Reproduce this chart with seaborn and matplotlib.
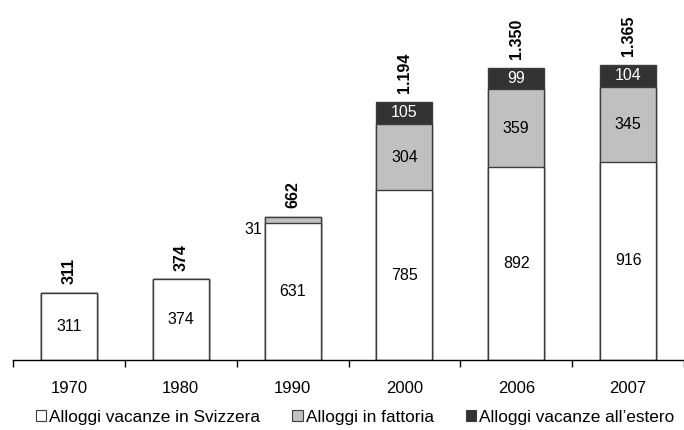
import numpy as np
import pandas as pd
import matplotlib
matplotlib.use("Agg")
import matplotlib.pyplot as plt
from matplotlib.patches import Patch
import seaborn as sns

# data
years = ["1970", "1980", "1990", "2000", "2006", "2007"]
svizzera = [311, 374, 631, 785, 892, 916]
fattoria = [0, 0, 31, 304, 359, 345]
estero = [0, 0, 0, 105, 99, 104]
series_names = ["Alloggi vacanze in Svizzera", "Alloggi in fattoria", "Alloggi vacanze all\u2019estero"]

colors = ["#ffffff", "#c0c0c0", "#333333"]
edge = "#3c3c3c"

sns.set_style("white")
plt.rcParams["font.family"] = ["Liberation Sans", "DejaVu Sans"]
plt.rcParams["text.color"] = "black"
plt.rcParams["xtick.color"] = "black"

df = pd.DataFrame({"year": years, "sv": svizzera, "fa": fattoria, "es": estero})
df["lvl1"] = df["sv"]
df["lvl2"] = df["sv"] + df["fa"]
df["lvl3"] = df["sv"] + df["fa"] + df["es"]

fig = plt.figure(figsize=(6.84, 4.30), dpi=100)
ax = fig.add_axes([13 / 684, 70 / 430, 671 / 684, 360 / 430])

# stacked bars: draw the cumulative totals from the top layer down
for col, c in zip(["lvl3", "lvl2", "lvl1"], colors[::-1]):
    sns.barplot(data=df, x="year", y=col, color=c, saturation=1, width=0.5,
                edgecolor=edge, linewidth=1.0, ax=ax)

ax.set_xlim(-0.5, -0.5 + 671 / 113.4)
ax.set_ylim(0, 1663)
ax.set_xlabel("")
ax.set_ylabel("")
ax.set_yticks([])
for s in ["left", "top", "right"]:
    ax.spines[s].set_visible(False)
ax.spines["bottom"].set_color("black")
ax.spines["bottom"].set_linewidth(1.0)
ax.set_xticks(np.arange(-0.5, 6, 1), minor=True)
ax.tick_params(axis="x", which="major", bottom=True, length=0, pad=15,
               labelsize=12, labelcolor="black")
ax.tick_params(axis="x", which="minor", bottom=True, length=5, width=1,
               color="black", direction="out")

# segment labels
fs = 11.5
for i in range(len(years)):
    sv, fa, es = svizzera[i], fattoria[i], estero[i]
    ax.text(i, sv / 2, str(sv), ha="center", va="center", fontsize=fs)
    if fa >= 100:
        ax.text(i, sv + fa / 2, str(fa), ha="center", va="center", fontsize=fs)
    elif fa > 0:
        ax.annotate(str(fa), (i - 0.25, sv + fa / 2), xytext=(-2, -7),
                    textcoords="offset points", ha="right", va="center", fontsize=fs)
    if es > 0:
        ax.text(i, sv + fa + es / 2, str(es), ha="center", va="center",
                fontsize=fs, color="white")
    tot = sv + fa + es
    ax.annotate(f"{tot:,}".replace(",", "."), (i, tot), xytext=(0, 6),
                textcoords="offset points", ha="center", va="bottom",
                rotation=90, fontsize=fs, fontweight="bold")

handles = [Patch(facecolor=c, edgecolor=edge, linewidth=0.8) for c in colors]
fig.legend(handles, series_names, loc="center", bbox_to_anchor=(0.519, 0.03),
           ncol=3, frameon=False, fontsize=12.4, handlelength=0.62, handleheight=0.62,
           handletextpad=0.17, columnspacing=1.85, borderaxespad=0)

fig.savefig("out.png", dpi=100)
